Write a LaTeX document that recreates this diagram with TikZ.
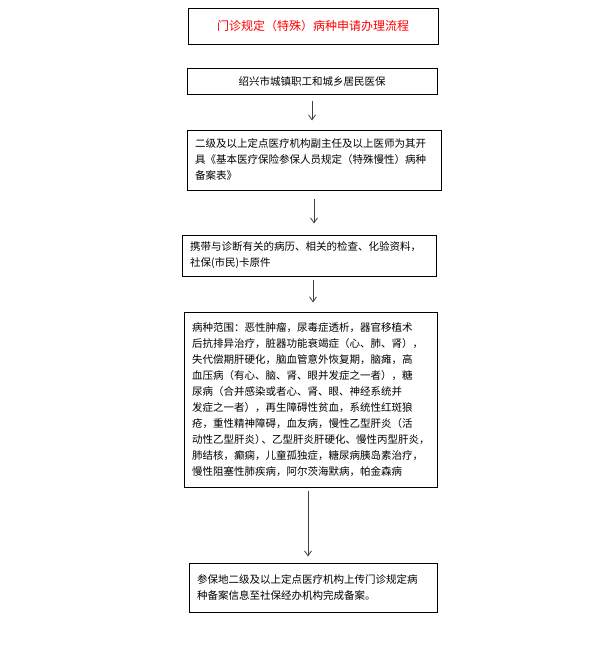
\documentclass[tikz,border=0pt]{standalone}
\usepackage{fontspec}
\newfontfamily\cjk{Noto Sans CJK SC}
\usetikzlibrary{arrows.meta}
\tikzset{
  flowbox/.style={draw, line width=1pt, inner xsep=8pt, inner ysep=0pt, align=left,
    font=\cjk\fontsize{10.5}{16}\selectfont},
  flowarrow/.style={draw=black!75, line width=0.8pt, -{Straight Barb[length=5pt,width=7pt]}}
}
\begin{document}
\begin{tikzpicture}[x=1pt,y=-1pt]
    \useasboundingbox (0,0) rectangle (593,645);
    % Title
    \node[flowbox, align=center, text=red, font=\cjk\fontsize{12}{14}\selectfont,
      minimum width=250pt, minimum height=36pt] (title) at (313,26)
      {门诊规定（特殊）病种申请办理流程};
    % Steps
    \node[flowbox, align=center, minimum width=250pt, minimum height=26pt] (insure) at (312,81)
      {绍兴市城镇职工和城乡居民医保};
    \node[flowbox, text width=238pt, minimum height=60pt] (doctor) at (314,160)
      {二级及以上定点医疗机构副主任及以上医师为其开\\
       具《基本医疗保险参保人员规定（特殊慢性）病种\\
       备案表》};
    \node[flowbox, text width=238pt, minimum height=41pt] (papers) at (309,255.5)
      {携带与诊断有关的病历、相关的检查、化验资料，\\
       社保(市民)卡原件};
    \node[flowbox, text width=237pt, minimum height=175pt] (scope) at (310.5,399.5)
      {病种范围：恶性肿瘤，尿毒症透析，器官移植术\\
       后抗排异治疗，脏器功能衰竭症（心、肺、肾），\\
       失代偿期肝硬化，脑血管意外恢复期，脑瘫，高\\
       血压病（有心、脑、肾、眼并发症之一者），糖\\
       尿病（合并感染或者心、肾、眼、神经系统并\\
       发症之一者），再生障碍性贫血，系统性红斑狼\\
       疮，重性精神障碍，血友病，慢性乙型肝炎（活\\
       动性乙型肝炎）\kern-4pt、乙型肝炎肝硬化、慢性丙型肝炎，\\
       肺结核，癫痫，儿童孤独症，糖尿病胰岛素治疗，\\
       慢性阻塞性肺疾病，阿尔茨海默病，帕金森病};
    \node[flowbox, text width=232pt, minimum height=49pt] (upload) at (313,587.5)
      {参保地二级及以上定点医疗机构上传门诊规定病\\
       种备案信息至社保经办机构完成备案。};
    % Arrows
    \draw[flowarrow, shorten <=6pt, shorten >=9pt] (insure.south) -- (insure.south |- doctor.north);
    \draw[flowarrow, shorten <=8pt, shorten >=11pt] (doctor.south) -- (doctor.south |- papers.north);
    \coordinate (p3) at ([xshift=4pt]papers.south);
    \draw[flowarrow, shorten <=3pt, shorten >=9pt] (p3) -- (p3 |- scope.north);
    \coordinate (p4) at ([xshift=-2.5pt]scope.south);
    \draw[flowarrow, shorten <=3pt, shorten >=6pt] (p4) -- (p4 |- upload.north);
\end{tikzpicture}
\end{document}
